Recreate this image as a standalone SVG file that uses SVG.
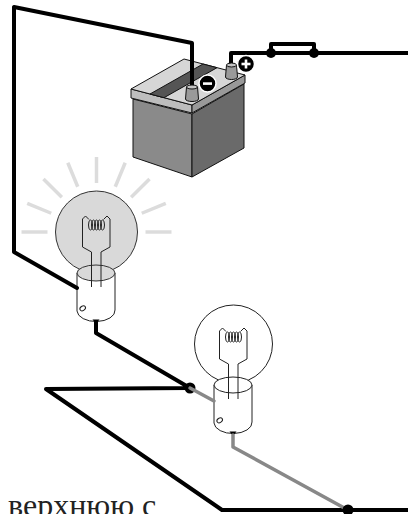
<svg xmlns="http://www.w3.org/2000/svg" xmlns:xlink="http://www.w3.org/1999/xlink" width="408" height="514" viewBox="0 0 408 514">
  <style>
    .wire{fill:none;stroke:#000;stroke-width:4;stroke-linejoin:round;stroke-linecap:round}
    .wire-grey{fill:none;stroke:#888;stroke-width:3.5;stroke-linejoin:round;stroke-linecap:round}
    .dot{fill:#000}
    .edge{stroke:#111;stroke-width:1;stroke-linejoin:round}
    .thin{fill:none;stroke:#222;stroke-width:1}
    .ray{stroke:#dcdcdc;stroke-width:3.5;stroke-linecap:butt}
    .sign{fill:#000;stroke:#fff;stroke-width:1.5}
    .label{font-family:"Liberation Serif","DejaVu Serif",serif;font-size:32px;fill:#222}
  </style>
  <defs>
    <!-- bulb parts, drawn around the centre of the base's top rim -->
    <path id="base-body" d="M-19,0 L-19,38 A19,11 0 0 0 19,37 L19,0 Z" fill="#fff" stroke="#222" stroke-width="1"/>
    <g id="filament">
      <path class="thin" d="M-4.5,14 L-4.5,-21 L-13.5,-26 L-13.5,-54 L-10.5,-57 L-7,-53.5 M7.5,-53.5 L11,-57 L14,-54 L14,-26 L5,-21 L5,14"/>
      <g class="thin">
        <ellipse cx="-5.5" cy="-48" rx="2" ry="5"/>
        <ellipse cx="-2.5" cy="-48" rx="2" ry="5"/>
        <ellipse cx="0.5" cy="-48" rx="2" ry="5"/>
        <ellipse cx="3.5" cy="-48" rx="2" ry="5"/>
        <ellipse cx="6.5" cy="-48" rx="2" ry="5"/>
      </g>
      <ellipse class="thin" cx="-13.3" cy="35.3" rx="3" ry="2.2" transform="rotate(-35 -13.3 35.3)"/>
      <polygon points="-3.5,46.5 3.5,46.5 0,51" fill="#000"/>
    </g>
    <line id="ray" class="ray" x1="49" y1="0" x2="75" y2="0"/>
  </defs>

  <!-- partly visible letter at the left border -->
  <text x="-22" y="137" font-family="Liberation Serif, serif" font-size="60" fill="#888">з</text>

  <!-- battery -->
  <g id="battery">
    <polygon class="edge" points="133,99 192,114 192,177 133,157" fill="#8a8a8a"/>
    <polygon class="edge" points="192,114 244,84 244,148 192,177" fill="#6a6a6a"/>
    <polygon class="edge" points="131,89 192,105 192,113 131,98" fill="#bdbdbd"/>
    <polygon class="edge" points="192,105 245,75 245,83 192,113" fill="#999"/>
    <polygon class="edge" points="131,89 192,105 245,75 184,59" fill="#d6d6d6"/>
    <polygon class="edge" points="150,94 164,97.7 217,67.7 203,64" fill="#555"/>
  </g>

  <!-- lit bulb -->
  <g id="bulb-lit" transform="translate(96,273)">
    <g transform="translate(0.5,-41)">
      <use xlink:href="#ray" transform="rotate(180)"/>
      <use xlink:href="#ray" transform="rotate(-157.5)"/>
      <use xlink:href="#ray" transform="rotate(-135)"/>
      <use xlink:href="#ray" transform="rotate(-112.5)"/>
      <use xlink:href="#ray" transform="rotate(-90)"/>
      <use xlink:href="#ray" transform="rotate(-67.5)"/>
      <use xlink:href="#ray" transform="rotate(-45)"/>
      <use xlink:href="#ray" transform="rotate(-22.5)"/>
      <use xlink:href="#ray"/>
    </g>
    <circle cx="0.5" cy="-41" r="41" fill="#d9d9d9" stroke="#333" stroke-width="1"/>
    <use xlink:href="#base-body"/>
    <ellipse cx="0" cy="0" rx="19" ry="8" fill="#d9d9d9" stroke="#333" stroke-width="1"/>
    <use xlink:href="#filament"/>
  </g>

  <!-- unlit bulb -->
  <g id="bulb-dark" transform="translate(233,385)">
    <circle cx="0.5" cy="-41" r="39" fill="#fff" stroke="#222" stroke-width="1"/>
    <use xlink:href="#base-body"/>
    <ellipse cx="0" cy="0" rx="19" ry="8" fill="#fff" stroke="#222" stroke-width="1"/>
    <use xlink:href="#filament"/>
  </g>

  <!-- connectors -->
  <g id="connectors">
    <path class="wire" d="M192,88 L192,43 L14,7 L14,252 L77,288"/>
    <path class="wire" d="M231,64 L231,53 L408,53"/>
    <path class="wire" d="M271,53 L271,44 L314,44 L314,53" stroke-width="5.5"/>
    <circle class="dot" cx="271" cy="53" r="5"/>
    <circle class="dot" cx="314" cy="53" r="5"/>
    <path class="wire" d="M96,322 L96,333 L190,388 L46,389 L222,510 L408,510"/>
    <circle class="dot" cx="190" cy="388" r="5.5"/>
    <path class="wire-grey" d="M190,388 L214,401"/>
    <path class="wire-grey" d="M233,435 L233,447 L348,510"/>
    <circle class="dot" cx="348" cy="510" r="5.5"/>
  </g>

  <!-- battery terminals, above the wire ends -->
  <g id="terminal-neg">
    <path class="edge" d="M186.5,87 L185.5,99 A6.5,2.5 0 0 0 198.5,99 L197.5,87 Z" fill="#9a9a9a"/>
    <ellipse class="edge" cx="192" cy="87" rx="5.5" ry="2" fill="#c4c4c4"/>
    <circle class="sign" cx="207.5" cy="83.5" r="8.5"/>
    <rect x="203" y="82.3" width="9" height="2.6" fill="#fff"/>
  </g>
  <g id="terminal-pos">
    <path class="edge" d="M226.5,65 L225.5,77 A6,2.5 0 0 0 237.5,77 L236.5,65 Z" fill="#9a9a9a"/>
    <ellipse class="edge" cx="231.5" cy="65" rx="5" ry="2" fill="#c4c4c4"/>
    <circle class="sign" cx="246" cy="64" r="8.5"/>
    <rect x="241.5" y="62.7" width="9" height="2.6" fill="#fff"/>
    <rect x="244.7" y="59.5" width="2.6" height="9" fill="#fff"/>
  </g>

  <text class="label" x="8" y="516">верхнюю с</text>
</svg>
